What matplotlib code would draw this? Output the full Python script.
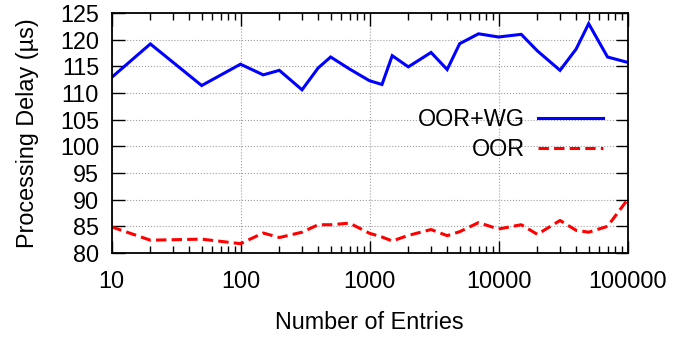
import matplotlib
matplotlib.use("Agg")
import matplotlib.pyplot as plt
from matplotlib.ticker import LogLocator, FixedLocator, NullFormatter
from matplotlib.patches import Rectangle

plt.rcParams['font.family'] = ['Liberation Sans', 'DejaVu Sans']

entries = [10, 20, 50, 100, 150, 200, 300, 400, 500, 700, 1000, 1250, 1500, 2000,
           3000, 4000, 5000, 7000, 10000, 15000, 20000, 30000, 40000, 50000, 70000, 100000]
oor_wg = [112.9, 119.2, 111.4, 115.4, 113.4, 114.25, 110.6, 114.7, 116.75, 114.5,
          112.3, 111.6, 117.0, 114.9, 117.6, 114.4, 119.25, 121.1, 120.5, 121.0,
          117.9, 114.25, 118.25, 123.0, 116.75, 115.75]
oor = [84.9, 82.4, 82.6, 81.75, 83.75, 82.9, 83.9, 85.3, 85.3, 85.6,
       83.7, 83.0, 82.25, 83.3, 84.4, 83.25, 84.0, 85.7, 84.5, 85.3,
       83.5, 86.1, 84.25, 83.9, 85.0, 90.0]
yticks = [80, 85, 90, 95, 100, 105, 110, 115, 120, 125]
xticks = [10, 100, 1000, 10000, 100000]

fig = plt.figure(figsize=(6.88, 3.37), dpi=100)
ax = fig.add_axes([111.5 / 688, 1 - 253 / 337, (627.5 - 111.5) / 688, (253 - 13) / 337])

ax.plot(entries, oor_wg, color='#0000ff', lw=2.2, label='OOR+WG', solid_joinstyle='miter')
ax.plot(entries, oor, color='#ff0000', lw=2.2, ls=(0, (3.4, 1.7)), label='OOR')

ax.set_xscale('log')
ax.set_xlim(10, 100000)
ax.set_ylim(80, 125)
ax.xaxis.set_major_locator(FixedLocator(xticks))
ax.set_xticklabels([str(v) for v in xticks])
ax.xaxis.set_minor_locator(LogLocator(base=10, subs=range(2, 10)))
ax.xaxis.set_minor_formatter(NullFormatter())
ax.set_yticks(yticks)

ax.tick_params(axis='both', which='major', direction='in', length=9, width=1,
               top=True, right=True, labelsize=16.8, pad=9, colors='black')
ax.tick_params(axis='x', which='minor', direction='in', length=5, width=1, top=True)
ax.tick_params(axis='x', which='major', pad=12)
for s in ax.spines.values():
    s.set_linewidth(1.3)

ax.grid(True, which='major', color='#a0a0a0', ls=':', lw=0.8)

ax.set_xlabel('Number of Entries', fontsize=16.8, labelpad=13)
ax.set_ylabel('Processing Delay (µs)', fontsize=16.8, labelpad=15)

leg = ax.legend(loc='upper right', bbox_to_anchor=(0.958, 0.615), frameon=False,
                markerfirst=False, fontsize=16.8, handlelength=2.8, handletextpad=0.55,
                labelspacing=0.3, borderpad=0.1, borderaxespad=0)
for t in leg.get_texts():
    t.set_ha('right')

fig.patches.append(Rectangle((668 / 688, 0), 1 - 668 / 688, 1, transform=fig.transFigure,
                             facecolor='white', edgecolor='none', zorder=10))

fig.savefig('out.png', dpi=100)
